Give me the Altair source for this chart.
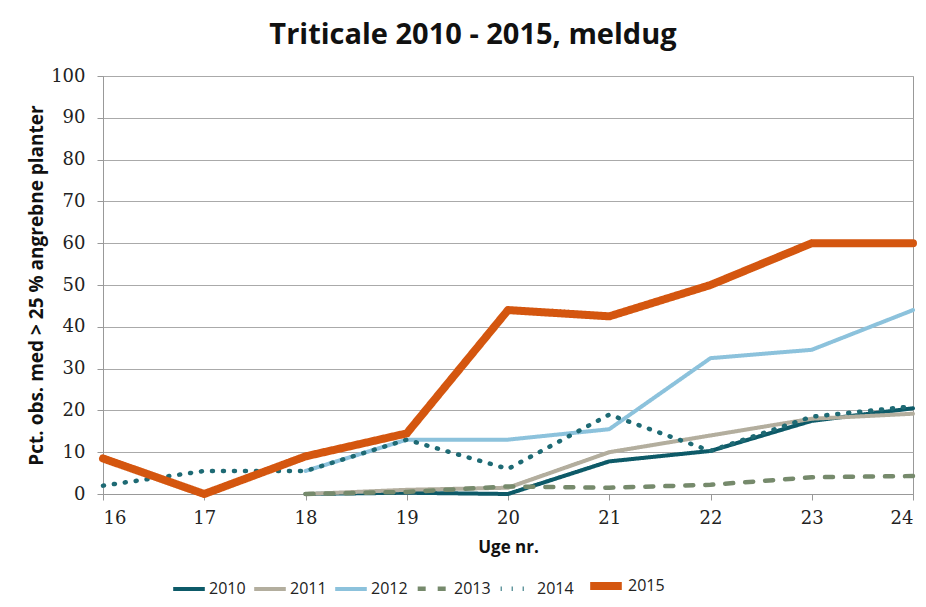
import altair as alt
import pandas as pd

years = ["2010", "2011", "2012", "2013", "2014", "2015"]
weeks = [16, 17, 18, 19, 20, 21, 22, 23, 24]
v2010 = [None, None, 0, 0.3, 0, 7.8, 10.3, 17.5, 20.5]
v2011 = [None, None, 0, 1, 1.5, 10, 14, 18, 19.2]
v2012 = [None, None, 5.5, 13, 13, 15.5, 32.5, 34.5, 44]
v2013 = [None, None, 0, 0.5, 1.8, 1.5, 2.2, 4, 4.3]
v2014 = [2, 5.5, 5.5, 13, 6, 19, 10.3, 18.5, 21]
v2015 = [8.5, 0, 9, 14.5, 44, 42.5, 50, 60, 60]
series = [v2010, v2011, v2012, v2013, v2014, v2015]

colors = ["#0d5a68", "#b3ae9e", "#8cc2dc", "#768a6c", "#1e6a74", "#d4560f"]
dashes = [[1, 0], [1, 0], [1, 0], [8, 12], [1, 10], [1, 0]]
widths = [4, 4, 4, 4.5, 4.5, 8]

rows = []
for y, vals in zip(years, series):
    for w, v in zip(weeks, vals):
        if v is not None:
            rows.append({"year": y, "week": w, "value": v})
df = pd.DataFrame(rows)

serif = "DejaVu Serif"
sans = "Open Sans"

chart = alt.Chart(df).mark_line(strokeCap="round", strokeJoin="round").encode(
    x=alt.X("week:Q", scale=alt.Scale(domain=[16, 24], nice=False),
            axis=alt.Axis(title="Uge nr.", values=weeks, format="d", grid=False,
                          tickSize=6, tickColor="#999", domainColor="#999",
                          labelFont=serif, labelFontSize=18, labelColor="#222",
                          labelPadding=9, titleFont=sans, titleFontSize=17,
                          titleFontWeight="bold", titleColor="#111", titlePadding=12)),
    y=alt.Y("value:Q", scale=alt.Scale(domain=[0, 100], nice=False),
            axis=alt.Axis(title="Pct. obs. med > 25 % angrebne planter",
                          values=list(range(0, 101, 10)), grid=True, gridColor="#aaa",
                          tickSize=6, tickColor="#999", domainColor="#999",
                          labelFont=serif, labelFontSize=18, labelColor="#222",
                          labelPadding=12, titleFont=sans, titleFontSize=19,
                          titleFontWeight="bold", titleColor="#111", titlePadding=4)),
    color=alt.Color("year:O", scale=alt.Scale(domain=years, range=colors),
                    legend=alt.Legend(title=None, orient="none", legendX=68, legendY=490,
                                      direction="horizontal", symbolType="stroke",
                                      symbolSize=1000, labelFont=sans, labelFontSize=16,
                                      labelColor="#222", labelOffset=2, columnPadding=0)),
    strokeDash=alt.StrokeDash("year:O", scale=alt.Scale(domain=years, range=dashes)),
    strokeWidth=alt.StrokeWidth("year:O", scale=alt.Scale(type="ordinal", domain=years, range=widths)),
    order="week:Q",
).properties(
    width=810, height=418,
    title=alt.Title("Triticale 2010 - 2015, meldug", font=sans, fontSize=29,
                    fontWeight="bold", color="#111", anchor="middle", dx=-35,
                    frame="group", offset=17),
    padding={"left": 95, "top": 68, "right": 5, "bottom": 110},
    autosize=alt.AutoSizeParams(type="none"),
).configure_view(stroke="#999", strokeWidth=1)

chart.save("out.html", embed_options={"renderer": "svg", "actions": False})
